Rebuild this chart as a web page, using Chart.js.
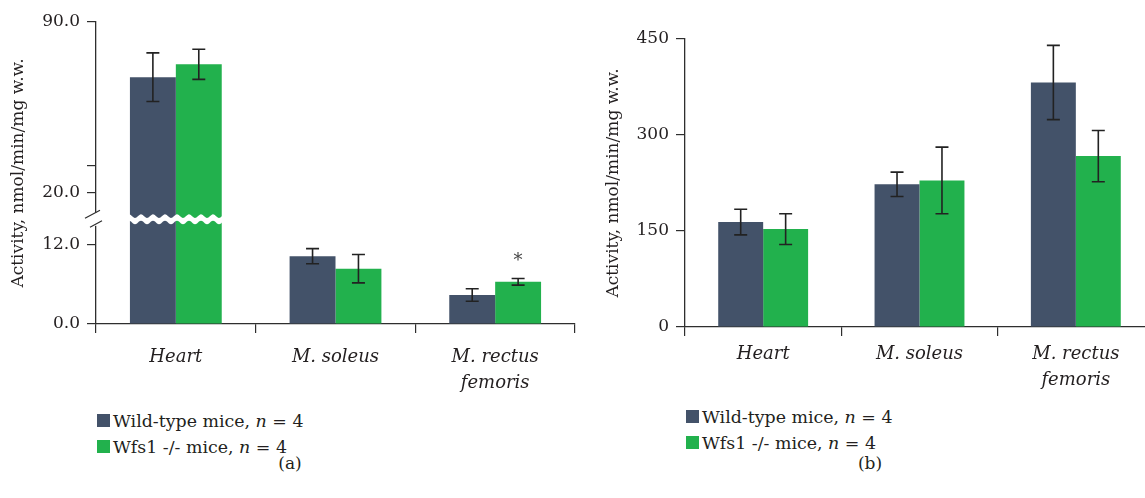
<!DOCTYPE html>
<html><head><meta charset="utf-8">
<script src="https://cdn.jsdelivr.net/npm/chart.js@4.4.1/dist/chart.umd.min.js"></script>
<style>
html,body{margin:0;padding:0;background:#fff;}
#page{position:relative;width:1145px;height:498px;overflow:hidden;font-family:"DejaVu Serif","Liberation Serif","Times New Roman",serif;color:#231f20;}
.box{position:absolute;top:0;height:400px;}
.legend{position:absolute;font-size:17.4px;line-height:26px;}
.legend div{position:relative;padding-left:16px;white-space:nowrap;}
.legend .sw{position:absolute;left:0;top:6px;width:13px;height:13px;}
.cap{position:absolute;font-size:17px;line-height:26px;transform:translateX(-50%);}
</style></head>
<body>
<div id="page">
  <div class="box" style="left:0;width:590px;"><canvas id="cA"></canvas></div>
  <div class="box" style="left:590px;width:580px;"><canvas id="cB"></canvas></div>
  <div class="legend" style="left:97px;top:408px;">
    <div><span class="sw" style="background:#435269"></span>Wild-type mice, <i>n</i> = 4</div>
    <div><span class="sw" style="background:#22b14d"></span>Wfs1 -/- mice, <i>n</i> = 4</div>
  </div>
  <div class="legend" style="left:686px;top:404px;">
    <div><span class="sw" style="background:#435269"></span>Wild-type mice, <i>n</i> = 4</div>
    <div><span class="sw" style="background:#22b14d"></span>Wfs1 -/- mice, <i>n</i> = 4</div>
  </div>
  <div class="cap" style="left:290px;top:450px;">(a)</div>
  <div class="cap" style="left:870px;top:450px;">(b)</div>
</div>
<script>
// ---------- data ----------
const categories = ['Heart', 'M. soleus', ['M. rectus', 'femoris']];
const seriesNames = ['Wild-type mice', 'Wfs1 -/- mice'];
// panel (a)
const wtA = [67.3, 10.3, 4.4];
const wtErrA = [10.0, 1.15, 0.95];
const koA = [72.6, 8.4, 6.4];
const koErrA = [6.2, 2.15, 0.5];
const koSigA = ['', '', '*'];
const tickValuesA = [0, 12, 20, 31, 90];
const tickLabelsA = ['0.0', '12.0', '20.0', '', '90.0'];
// panel (b)
const wtB = [164, 223, 382];
const wtErrB = [20, 19, 58];
const koB = [153, 229, 267];
const koErrB = [24, 52, 40];
const koSigB = ['', '', ''];
const tickValuesB = [0, 150, 300, 450];
const tickLabelsB = ['0', '150', '300', '450'];

const WT_COLOR = '#435269';
const KO_COLOR = '#22b14d';
const AXIS_COLOR = '#2e2e2e';
const TEXT_COLOR = '#231f20';
const FONT = '"DejaVu Serif", "Liberation Serif", serif';

// ---------- broken (piecewise-linear) scale ----------
class BrokenLinearScale extends Chart.LinearScale {
  _dec(v) {
    const k = this.options.breakValue, f = this.options.breakFraction;
    if (v <= k) return (v - this.min) / (k - this.min) * f;
    return f + (v - k) / (this.max - k) * (1 - f);
  }
  getPixelForValue(v) {
    if (v === null || v === undefined || isNaN(v)) return NaN;
    return this.getPixelForDecimal(this._dec(v));
  }
  getValueForPixel(p) {
    const d = this.getDecimalForPixel(p);
    const k = this.options.breakValue, f = this.options.breakFraction;
    if (d <= f) return this.min + d / f * (k - this.min);
    return k + (d - f) / (1 - f) * (this.max - k);
  }
}
BrokenLinearScale.id = 'brokenLinear';
BrokenLinearScale.defaults = Chart.LinearScale.defaults;
Chart.register(BrokenLinearScale);

// ---------- plugins ----------
const errorBars = {
  id: 'errorBars',
  afterDatasetsDraw(chart) {
    const ctx = chart.ctx, y = chart.scales.y;
    chart.data.datasets.forEach((ds, i) => {
      const meta = chart.getDatasetMeta(i);
      meta.data.forEach((bar, j) => {
        const v = ds.data[j], e = ds.errors[j];
        const yt = y.getPixelForValue(v + e), yb = y.getPixelForValue(v - e);
        const x = bar.x, cw = 6.5;
        ctx.save();
        ctx.strokeStyle = '#222';
        ctx.lineWidth = 1.6;
        ctx.beginPath();
        ctx.moveTo(x, yt); ctx.lineTo(x, yb);
        ctx.moveTo(x - cw, yt); ctx.lineTo(x + cw, yt);
        ctx.moveTo(x - cw, yb); ctx.lineTo(x + cw, yb);
        ctx.stroke();
        const s = ds.sig && ds.sig[j];
        if (s) {
          ctx.fillStyle = '#444';
          ctx.font = '18px ' + FONT;
          ctx.textAlign = 'center';
          ctx.textBaseline = 'middle';
          ctx.fillText(s, x, yt - 17);
        }
        ctx.restore();
      });
    });
  }
};

const axisBreak = {
  id: 'axisBreak',
  afterDraw(chart, args, opts) {
    if (!opts || opts.value === undefined) return;
    const ctx = chart.ctx, y = chart.scales.y, area = chart.chartArea;
    const py = y.getPixelForValue(opts.value);
    const L = area.left, R = area.right;
    ctx.save();
    const amp = 1.8, wl = 12, half = 3.2;
    ctx.beginPath();
    ctx.moveTo(L + 0.8, py - half);
    for (let x = L + 0.8; x <= R; x += 1) {
      ctx.lineTo(x, py - half + amp * Math.sin((x - L) / wl * 2 * Math.PI));
    }
    for (let x = R; x >= L + 0.8; x -= 1) {
      ctx.lineTo(x, py + half + amp * Math.sin((x - L) / wl * 2 * Math.PI));
    }
    ctx.closePath();
    ctx.fillStyle = '#fff';
    ctx.fill();
    ctx.fillRect(L - 3, py - 6.5, 6, 13);
    ctx.strokeStyle = AXIS_COLOR;
    ctx.lineWidth = 1.2;
    ctx.beginPath();
    ctx.moveTo(L - 11, py - 1); ctx.lineTo(L + 4, py - 9);
    ctx.moveTo(L - 6, py + 8); ctx.lineTo(L + 6, py + 1.5);
    ctx.stroke();
    ctx.restore();
  }
};

function makeChart(id, cfg) {
  const ds = (label, data, errors, color, sig) => ({
    label, data, errors, sig, backgroundColor: color, borderWidth: 0,
    barPercentage: 1.0, categoryPercentage: 0.575
  });
  const yScale = {
    type: cfg.yType,
    min: cfg.yMin, max: cfg.yMax,
    afterBuildTicks: s => { s.ticks = cfg.tickValues.map(v => ({ value: v })); },
    afterFit: s => { s.width = cfg.yWidth; },
    ticks: {
      callback: (v, i) => cfg.tickLabels[i],
      color: TEXT_COLOR, padding: 7,
      font: { family: FONT, size: 17 }
    },
    grid: { drawOnChartArea: false, tickLength: 9, color: AXIS_COLOR, lineWidth: 1.2 },
    border: { display: true, color: AXIS_COLOR, width: 1.3 },
    title: {
      display: true, text: 'Activity, nmol/min/mg w.w.', color: TEXT_COLOR,
      font: { family: FONT, size: 17 }, padding: { top: cfg.titlePad, bottom: 0 }
    }
  };
  if (cfg.yType === 'brokenLinear') {
    yScale.breakValue = cfg.breakValue;
    yScale.breakFraction = cfg.breakFraction;
  }
  return new Chart(document.getElementById(id), {
    type: 'bar',
    data: {
      labels: categories,
      datasets: [
        ds(seriesNames[0], cfg.wt, cfg.wtErr, WT_COLOR, null),
        ds(seriesNames[1], cfg.ko, cfg.koErr, KO_COLOR, cfg.koSig)
      ]
    },
    options: {
      responsive: true, maintainAspectRatio: false, animation: false,
      layout: { padding: { left: 0, right: cfg.padRight, top: cfg.padTop, bottom: 0 } },
      plugins: {
        legend: { display: false }, tooltip: { enabled: false },
        axisBreak: cfg.axisBreak
      },
      scales: {
        x: {
          afterFit: s => { s.height = cfg.xHeight; },
          ticks: {
            color: TEXT_COLOR, padding: cfg.xPad, maxRotation: 0, autoSkip: false,
            font: { family: FONT, size: 18, style: 'italic', lineHeight: 1.45 }
          },
          grid: { offset: true, drawOnChartArea: false, tickLength: 9, color: AXIS_COLOR, lineWidth: 1.2 },
          border: { display: true, color: AXIS_COLOR, width: 1.3 }
        },
        y: yScale
      }
    },
    plugins: [errorBars, axisBreak]
  });
}

makeChart('cA', {
  wt: wtA, wtErr: wtErrA, ko: koA, koErr: koErrA, koSig: koSigA,
  yType: 'brokenLinear', yMin: 0, yMax: 90, breakValue: 20, breakFraction: 0.436,
  tickValues: tickValuesA, tickLabels: tickLabelsA,
  yWidth: 96, xHeight: 76, padTop: 22, padRight: 15, titlePad: 8, xPad: 11,
  axisBreak: { value: 15.9 }
});
makeChart('cB', {
  wt: wtB, wtErr: wtErrB, ko: koB, koErr: koErrB, koSig: koSigB,
  yType: 'linear', yMin: 0, yMax: 450,
  tickValues: tickValuesB, tickLabels: tickLabelsB,
  yWidth: 95, xHeight: 73, padTop: 39, padRight: 16, titlePad: 13, xPad: 5,
  axisBreak: {}
});
</script>
</body></html>
